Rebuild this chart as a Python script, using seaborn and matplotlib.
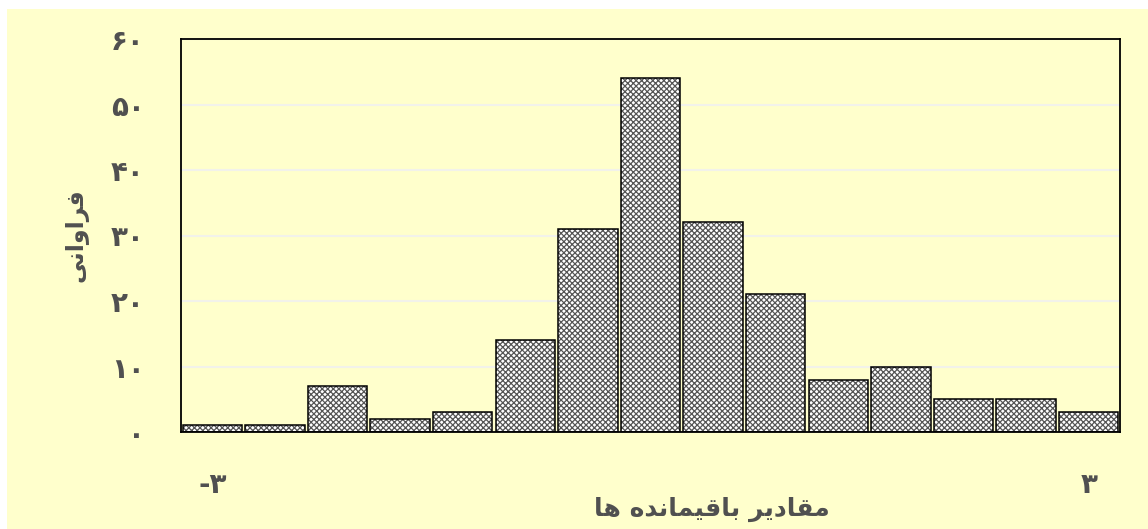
import matplotlib
matplotlib.use("Agg")
import matplotlib.pyplot as plt
import seaborn as sns
import pandas as pd
from matplotlib.patches import Rectangle

# ---- data ----
bins = list(range(1, 16))
counts = [1, 1, 7, 2, 3, 14, 31, 54, 32, 21, 8, 10, 5, 5, 3]
y_ticks = [0, 10, 20, 30, 40, 50, 60]
y_tick_labels = ["۰", "۱۰", "۲۰", "۳۰", "۴۰", "۵۰", "۶۰"]
x_tick_pos = [0, 14]
x_tick_labels = ["-۳", "۳"]

# Arabic text pre-shaped (presentation forms), reversed for LTR rendering
xlabel_logical = ("\uFEE3\uFED8\uFE8E\uFEA9\uFEF3\uFEAE" + " " +
                  "\uFE91\uFE8E\uFED7\uFEF4\uFEE4\uFE8E\uFEE7\uFEAA\uFEE9" + " " +
                  "\uFEEB\uFE8E")
ylabel_logical = "\uFED3\uFEAE\uFE8D\uFEED\uFE8D\uFEE7\uFEF0"
xlabel = xlabel_logical[::-1]
ylabel = ylabel_logical[::-1]

sns.set_theme(style="white")
plt.rcParams['font.family'] = ['DejaVu Sans']
plt.rcParams['hatch.linewidth'] = 0.9

TXT = '#505050'
BG = '#FFFFCC'

fig = plt.figure(figsize=(11.48, 5.29), dpi=100, facecolor='white')
fig.patches.append(Rectangle((7 / 1148, 0), 1, 1 - 9 / 529, transform=fig.transFigure,
                             facecolor=BG, edgecolor='none', zorder=-10))
ax = fig.add_axes([181 / 1148, (529 - 432) / 529, (1120 - 181) / 1148, (432 - 39) / 529])
ax.set_facecolor(BG)

df = pd.DataFrame({'bin': bins, 'count': counts})
sns.barplot(data=df, x='bin', y='count', color='white', saturation=1,
            edgecolor='#555555', linewidth=0, hatch='xxxxxx', width=0.95,
            ax=ax, zorder=2, errorbar=None)
sns.barplot(data=df, x='bin', y='count', fill=False, color='black',
            edgecolor='black', linewidth=1.1, width=0.95,
            ax=ax, zorder=3, errorbar=None)

ax.set_ylim(0, 60)
ax.set_xlim(-0.5, 14.5)
ax.set_yticks(y_ticks)
ax.set_yticklabels(y_tick_labels, fontsize=20, fontweight='bold', color=TXT)
ax.set_xticks(x_tick_pos)
ax.set_xticklabels(x_tick_labels, fontsize=20, fontweight='bold', color=TXT)
ax.tick_params(axis='y', length=0, pad=26)
ax.tick_params(axis='x', length=0, pad=28)

ax.yaxis.grid(True, color='#F2F2EA', lw=1.5, zorder=0)
ax.xaxis.grid(False)
ax.set_axisbelow(True)
for s in ax.spines.values():
    s.set_color('black')
    s.set_linewidth(1.3)
    s.set_visible(True)

ax.set_xlabel(xlabel, fontsize=18, fontweight='bold', color=TXT)
ax.xaxis.set_label_coords((712 - 181) / 939, (432 - 497) / 393)
ax.set_ylabel(ylabel, fontsize=17, fontweight='bold', color=TXT)
ax.yaxis.set_label_coords((89 - 181) / 939, (432 - 235) / 393)

fig.savefig('out.png', dpi=100, facecolor='white')
